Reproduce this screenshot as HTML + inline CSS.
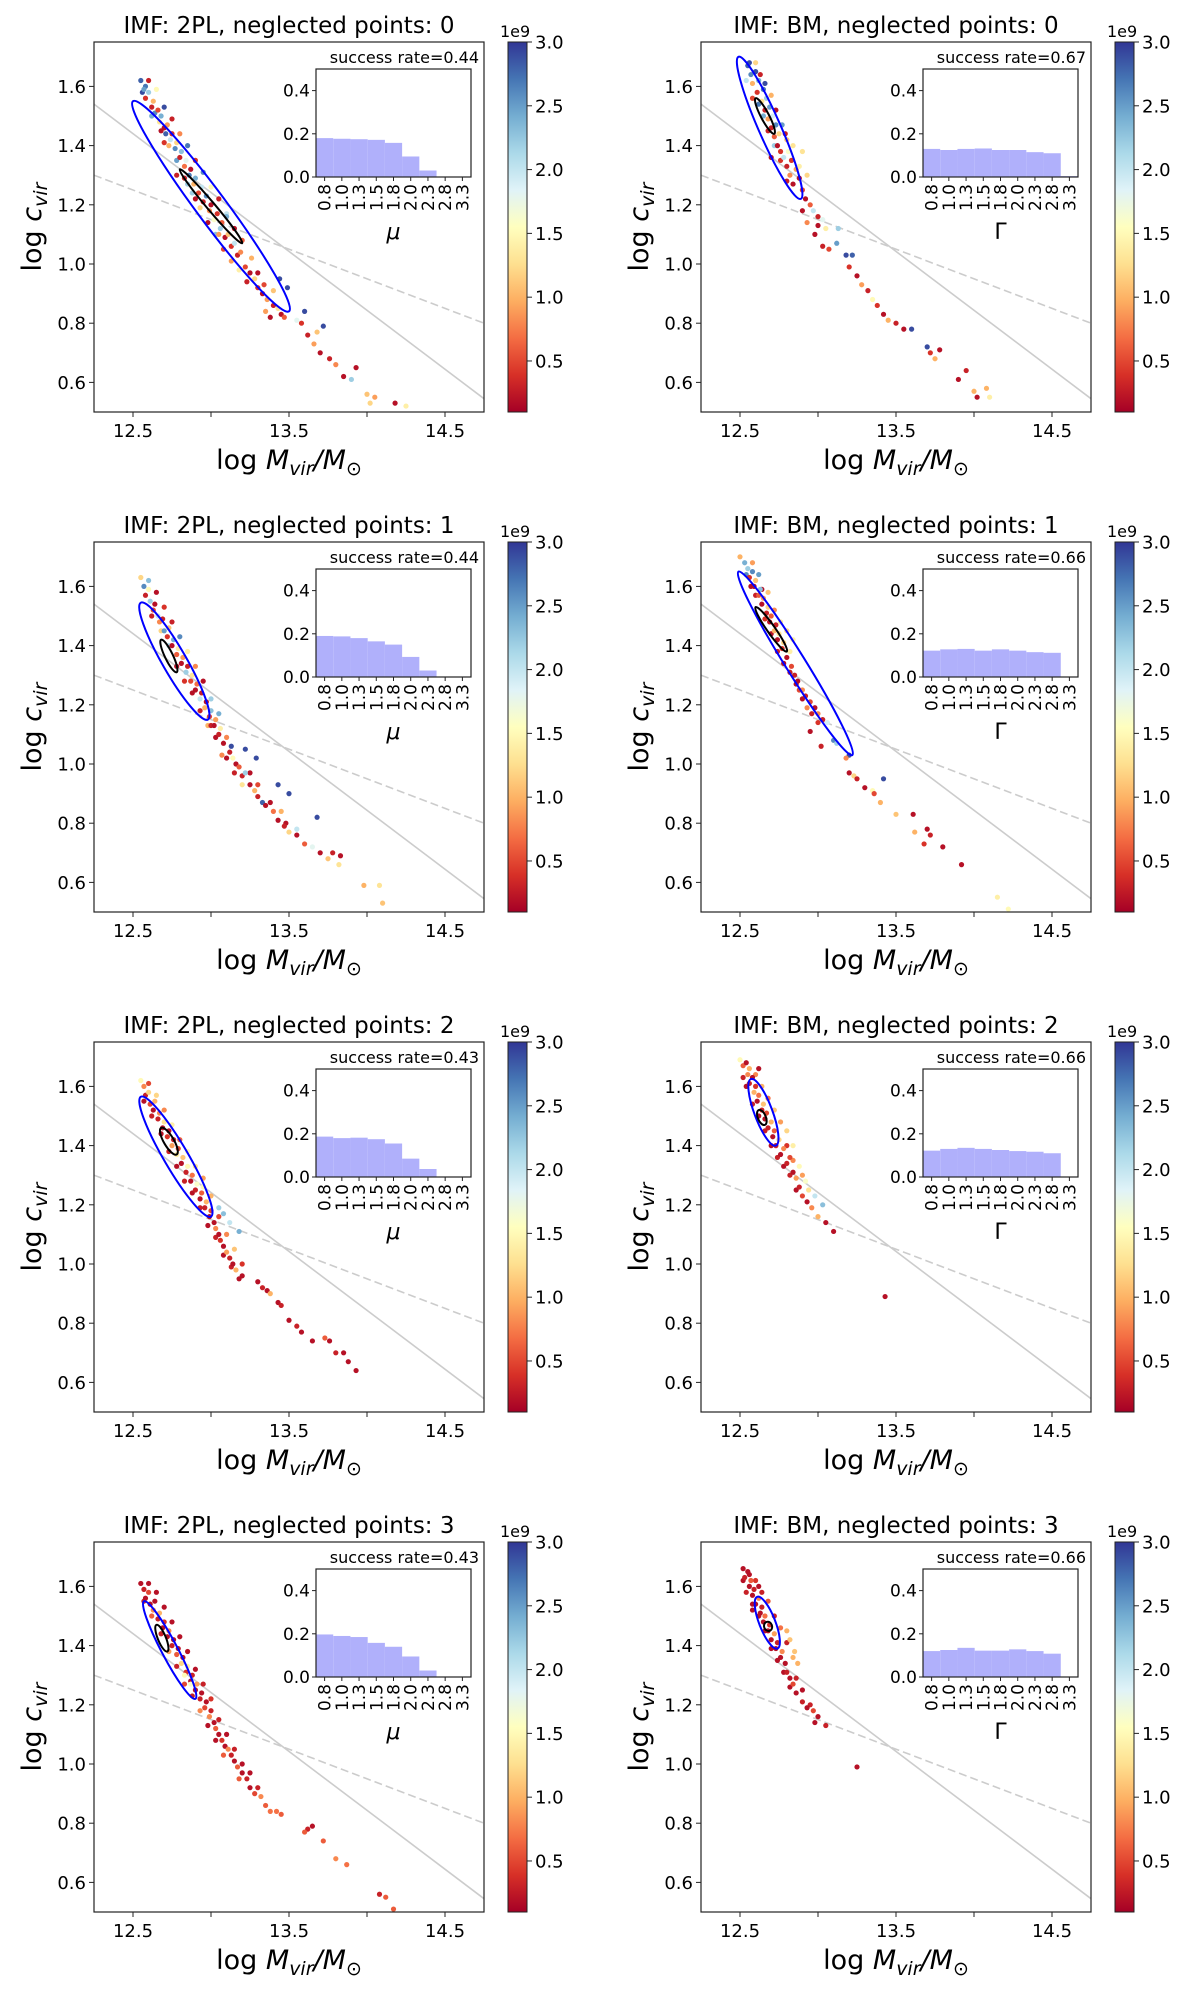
<!DOCTYPE html>
<html><head><meta charset="utf-8"><style>
html,body{margin:0;padding:0;background:#fff}
svg text{font-family:"DejaVu Sans","Liberation Sans",sans-serif;fill:#000}
</style></head><body>
<svg id="fig" xmlns="http://www.w3.org/2000/svg" width="1200" height="1994" viewBox="0 0 1200 1994">
<defs>
<linearGradient id="cmap" x1="0" y1="1" x2="0" y2="0">
<stop offset="0" stop-color="#a50026"/><stop offset="0.1" stop-color="#d73027"/><stop offset="0.2" stop-color="#f46d43"/><stop offset="0.3" stop-color="#fdae61"/><stop offset="0.4" stop-color="#fee090"/><stop offset="0.5" stop-color="#ffffbf"/><stop offset="0.6" stop-color="#e0f3f8"/><stop offset="0.7" stop-color="#abd9e9"/><stop offset="0.8" stop-color="#74add1"/><stop offset="0.9" stop-color="#4575b4"/><stop offset="1" stop-color="#313695"/>
</linearGradient>
</defs>
</svg>
<script>
// ---- data ----
const xTicks=[12.5,13.5,14.5];
const xMinorTicks=[13.0,14.0];
const yTicks=[0.6,0.8,1.0,1.2,1.4,1.6];
const cbTicks=[0.5,1.0,1.5,2.0,2.5,3.0];
const insetYTicks=[0.0,0.2,0.4];
const insetXLabels=["0.8","1.0","1.3","1.5","1.8","2.0","2.3","2.8","3.3"];
const solidRelation=[[12.25,1.54],[14.75,0.545]];
const dashedRelation=[[12.25,1.30],[14.75,0.80]];
const titles=["IMF: 2PL, neglected points: 0","IMF: BM, neglected points: 0","IMF: 2PL, neglected points: 1","IMF: BM, neglected points: 1","IMF: 2PL, neglected points: 2","IMF: BM, neglected points: 2","IMF: 2PL, neglected points: 3","IMF: BM, neglected points: 3"];
const successRates=["0.44","0.67","0.44","0.66","0.43","0.66","0.43","0.66"];
const insetXTitles=["μ","Γ","μ","Γ","μ","Γ","μ","Γ"];
const hist_2pl_0=[0.18,0.177,0.175,0.172,0.158,0.095,0.03,0,0];
const hist_bm_0=[0.13,0.125,0.13,0.132,0.125,0.125,0.115,0.11,0.004];
const hist_2pl_1=[0.19,0.188,0.18,0.165,0.15,0.093,0.03,0,0];
const hist_bm_1=[0.122,0.128,0.13,0.122,0.128,0.122,0.115,0.112,0];
const hist_2pl_2=[0.187,0.18,0.182,0.175,0.155,0.085,0.037,0,0];
const hist_bm_2=[0.122,0.13,0.135,0.13,0.125,0.12,0.117,0.11,0.002];
const hist_2pl_3=[0.197,0.19,0.185,0.158,0.14,0.095,0.03,0,0];
const hist_bm_3=[0.12,0.125,0.135,0.122,0.122,0.128,0.12,0.108,0];
// ellipses: [x1,y1,x2,y2,halfWidthPx]
const ell_blue=[[12.5,1.55,13.5,0.84,15],[12.49,1.70,12.89,1.22,11],[12.55,1.545,12.98,1.15,12],[12.49,1.65,13.22,1.03,10],[12.55,1.565,13.0,1.16,12],[12.57,1.625,12.73,1.40,9],[12.57,1.55,12.9,1.22,8],[12.61,1.565,12.74,1.39,8]];
const ell_black=[[12.8,1.32,13.2,1.07,4],[12.6,1.56,12.72,1.44,4],[12.68,1.42,12.78,1.31,4],[12.6,1.53,12.8,1.38,4],[12.68,1.46,12.78,1.37,5],[12.62,1.52,12.66,1.47,4],[12.65,1.47,12.72,1.38,4],[12.67,1.48,12.69,1.45,4]];
// points: [log M, log c, age/1e9]
const pts_2pl_0=[[12.55,1.62,2.8],[12.57,1.59,2.5],[12.58,1.56,0.4],[12.6,1.58,2.2],[12.62,1.53,0.3],[12.63,1.55,1.0],[12.64,1.51,2.6],[12.66,1.52,0.5],[12.67,1.48,1.3],[12.68,1.50,2.4],[12.7,1.46,0.2],[12.71,1.44,2.8],[12.72,1.47,0.9],[12.74,1.42,2.0],[12.75,1.44,0.4],[12.77,1.39,2.6],[12.78,1.41,1.2],[12.8,1.36,0.3],[12.81,1.38,2.3],[12.83,1.33,0.7],[12.84,1.35,1.8],[12.86,1.30,2.7],[12.87,1.32,0.2],[12.89,1.27,1.0],[12.9,1.29,2.4],[12.92,1.24,0.5],[12.94,1.26,2.0],[12.95,1.21,0.3],[12.97,1.23,2.6],[12.99,1.18,0.8],[13.0,1.20,0.2],[13.02,1.15,1.6],[13.04,1.17,0.4],[13.06,1.12,2.2],[13.07,1.14,0.6],[13.09,1.09,0.2],[13.11,1.10,1.1],[13.13,1.06,0.4],[13.15,1.07,2.0],[13.17,1.03,0.3],[13.19,1.04,0.8],[13.22,0.99,0.5],[13.25,0.97,0.2],[13.28,0.95,1.2],[13.3,0.92,0.4],[13.33,0.90,0.2],[13.36,0.88,0.9],[13.4,0.86,0.3],[13.43,0.85,1.3],[13.45,0.83,0.2],[13.47,0.82,0.6],[13.44,0.95,2.9],[13.49,0.92,2.9],[13.55,0.81,1.8],[13.62,0.76,0.3],[13.66,0.73,0.9],[13.7,0.70,0.2],[13.68,0.77,1.1],[13.72,0.79,2.9],[13.76,0.68,0.3],[13.8,0.66,0.8],[13.85,0.62,0.2],[13.9,0.61,2.2],[13.93,0.65,0.2],[14.0,0.56,1.1],[14.05,0.55,0.9],[14.02,0.53,1.2],[14.18,0.53,0.2],[14.25,0.52,1.4],[13.58,0.80,0.4],[13.6,0.84,2.9],[12.78,1.30,0.3],[12.9,1.22,0.2],[13.05,1.10,0.9],[13.1,1.16,2.4],[12.7,1.41,0.4],[12.85,1.27,2.2]];
const band_2pl_0=[[12.56,1.58,2.9],[12.58,1.60,2.7],[12.6,1.62,0.3],[12.62,1.50,2.4],[12.65,1.59,1.5],[12.68,1.45,0.2],[12.7,1.53,2.9],[12.73,1.40,1.0],[12.75,1.49,0.3],[12.78,1.35,2.5],[12.8,1.44,0.8],[12.83,1.29,0.3],[12.85,1.40,2.7],[12.88,1.24,2.2],[12.9,1.35,0.4],[12.93,1.19,1.2],[12.95,1.31,2.6],[12.98,1.14,0.2],[13.0,1.26,1.5],[13.03,1.10,2.3],[13.05,1.22,0.3],[13.08,1.05,0.5],[13.1,1.17,2.0],[13.13,1.01,0.9],[13.15,1.12,0.2],[13.18,0.98,1.4],[13.2,1.08,0.6],[13.23,0.94,0.3],[13.26,1.02,1.0],[13.3,0.97,0.2],[13.34,0.93,0.5],[13.38,0.82,0.2],[13.4,0.91,1.1],[13.35,0.84,0.9]];
const pts_bm_0=[[12.55,1.67,2.8],[12.57,1.64,2.6],[12.58,1.61,1.0],[12.6,1.65,2.9],[12.61,1.58,0.4],[12.62,1.62,2.4],[12.64,1.55,1.3],[12.65,1.59,2.7],[12.66,1.52,0.3],[12.67,1.56,2.2],[12.68,1.49,0.9],[12.69,1.53,2.5],[12.7,1.46,0.3],[12.71,1.50,1.9],[12.72,1.43,0.6],[12.73,1.47,2.6],[12.74,1.40,0.2],[12.75,1.44,1.2],[12.76,1.38,0.4],[12.78,1.36,2.0],[12.8,1.33,0.3],[12.82,1.30,0.8],[12.84,1.27,0.2],[12.8,1.42,1.1],[12.84,1.40,1.3],[12.88,1.33,1.4],[12.9,1.25,0.5],[12.92,1.22,0.2],[12.95,1.20,0.6],[12.97,1.18,2.0],[13.0,1.16,0.3],[13.03,1.15,1.8],[13.05,1.12,1.4],[12.98,1.10,0.2],[13.03,1.06,0.3],[13.07,1.05,0.5],[13.12,1.07,2.5],[13.18,1.03,2.9],[13.22,1.03,2.8],[13.13,1.12,2.2],[13.2,0.99,0.4],[13.25,0.96,0.2],[13.28,0.93,0.9],[13.32,0.91,0.3],[13.35,0.88,1.5],[13.38,0.86,0.4],[13.42,0.83,0.2],[13.45,0.81,1.0],[13.5,0.80,0.3],[13.55,0.78,0.2],[13.6,0.78,2.9],[13.7,0.72,2.9],[13.72,0.70,0.4],[13.78,0.71,0.2],[13.75,0.68,1.0],[13.9,0.61,0.2],[13.95,0.64,0.3],[14.0,0.57,1.0],[14.02,0.55,0.2],[14.08,0.58,1.0],[14.1,0.55,1.4]];
const band_bm_0=[[12.54,1.62,2.0],[12.56,1.68,2.9],[12.58,1.56,0.5],[12.6,1.68,1.2],[12.62,1.54,2.7],[12.63,1.64,0.3],[12.65,1.50,2.4],[12.66,1.61,2.9],[12.68,1.45,0.3],[12.7,1.57,1.0],[12.72,1.40,2.2],[12.73,1.52,0.2],[12.76,1.35,0.4],[12.77,1.47,2.5],[12.79,1.44,0.3],[12.81,1.38,1.6],[12.83,1.35,0.4],[12.86,1.32,0.9],[12.88,1.29,0.2],[12.9,1.38,1.3],[12.93,1.30,1.2],[12.7,1.36,0.2],[12.8,1.28,0.3],[12.9,1.18,0.2],[12.93,1.14,0.8],[13.0,1.13,0.2]];
const pts_2pl_1=[[12.55,1.63,1.2],[12.57,1.60,2.6],[12.58,1.57,0.3],[12.6,1.59,1.5],[12.61,1.55,2.2],[12.63,1.52,0.5],[12.64,1.54,0.2],[12.66,1.50,2.0],[12.67,1.48,0.8],[12.69,1.49,0.3],[12.7,1.45,2.5],[12.72,1.43,0.4],[12.73,1.46,1.1],[12.75,1.40,0.2],[12.76,1.42,2.4],[12.78,1.37,0.6],[12.79,1.39,1.4],[12.81,1.34,0.2],[12.82,1.36,0.9],[12.84,1.31,2.2],[12.85,1.33,0.3],[12.87,1.28,0.5],[12.88,1.30,1.3],[12.9,1.25,0.2],[12.91,1.27,0.7],[12.93,1.22,2.0],[12.94,1.24,0.3],[12.96,1.19,1.0],[12.97,1.21,0.2],[12.99,1.16,0.5],[13.0,1.18,2.3],[13.02,1.13,0.2],[13.03,1.15,0.9],[13.05,1.10,0.3],[13.06,1.12,1.4],[13.08,1.07,0.2],[13.1,1.09,0.8],[13.12,1.04,0.3],[13.14,1.02,1.5],[13.16,1.00,0.2],[13.18,0.99,0.6],[13.2,0.96,0.3],[13.22,0.97,2.2],[13.25,0.93,0.2],[13.28,0.91,1.0],[13.3,0.89,0.3],[13.33,0.87,2.8],[13.35,0.86,0.2],[13.4,0.84,0.7],[13.43,0.81,0.2],[13.47,0.79,0.3],[13.5,0.77,1.2],[13.55,0.76,0.2],[13.6,0.73,0.6],[13.65,0.72,1.8],[13.7,0.70,0.2],[13.75,0.68,1.1],[13.78,0.70,0.3],[13.83,0.69,0.2],[13.82,0.66,1.3],[13.13,1.06,2.9],[13.22,1.05,2.9],[13.29,1.02,2.9],[13.43,0.93,2.9],[13.5,0.90,2.9],[13.68,0.82,2.9],[13.05,1.17,2.4],[13.0,1.22,2.2],[13.98,0.59,1.0],[14.08,0.59,1.3],[14.1,0.53,1.1]];
const band_2pl_1=[[12.6,1.62,2.3],[12.62,1.50,0.3],[12.65,1.58,0.2],[12.68,1.45,1.2],[12.7,1.53,0.4],[12.73,1.40,2.1],[12.75,1.48,0.3],[12.78,1.33,0.2],[12.8,1.43,2.6],[12.83,1.28,0.4],[12.85,1.38,1.4],[12.88,1.24,0.2],[12.9,1.33,0.8],[12.93,1.18,0.3],[12.95,1.28,0.2],[12.98,1.13,1.0],[13.0,1.13,0.3],[13.03,1.09,0.2],[13.07,1.03,0.8],[13.1,1.02,0.2],[13.15,0.97,0.3],[13.2,0.93,1.3],[13.25,0.97,0.2],[13.3,0.93,0.5],[13.38,0.87,0.2],[13.45,0.84,1.0],[13.48,0.80,0.2],[13.55,0.78,2.0]];
const pts_bm_1=[[12.5,1.70,1.0],[12.53,1.68,2.4],[12.55,1.66,2.2],[12.56,1.63,0.4],[12.58,1.65,2.6],[12.59,1.60,0.2],[12.6,1.62,1.1],[12.62,1.57,0.6],[12.63,1.59,2.3],[12.64,1.54,0.2],[12.65,1.56,0.9],[12.67,1.51,0.3],[12.68,1.53,1.2],[12.69,1.48,0.2],[12.7,1.50,0.6],[12.72,1.45,1.0],[12.73,1.47,0.3],[12.74,1.42,0.2],[12.75,1.44,1.3],[12.77,1.39,0.4],[12.78,1.41,1.2],[12.8,1.36,0.2],[12.82,1.38,1.4],[12.83,1.33,0.5],[12.85,1.30,0.3],[12.87,1.28,0.2],[12.9,1.25,0.8],[12.92,1.23,0.3],[12.95,1.21,0.5],[12.98,1.19,0.2],[13.0,1.17,0.8],[13.03,1.15,0.3],[13.06,1.14,1.9],[12.95,1.11,0.2],[13.02,1.06,0.3],[13.1,1.08,2.6],[13.12,1.07,2.2],[13.2,1.03,2.9],[13.18,1.02,0.8],[13.2,0.97,0.2],[13.23,0.96,1.2],[13.25,0.95,0.3],[13.3,0.92,0.2],[13.35,0.91,1.5],[13.36,0.90,0.5],[13.42,0.95,2.9],[13.4,0.87,1.0],[13.5,0.83,1.1],[13.61,0.83,0.2],[13.62,0.77,1.0],[13.7,0.78,0.2],[13.72,0.76,0.3],[13.68,0.73,0.4],[13.8,0.72,0.2],[13.92,0.66,0.2],[14.15,0.55,1.4],[14.22,0.51,1.5]];
const band_bm_1=[[12.54,1.64,2.6],[12.57,1.60,0.2],[12.58,1.68,0.9],[12.6,1.57,0.3],[12.62,1.64,2.5],[12.64,1.59,0.2],[12.66,1.49,0.4],[12.68,1.58,1.1],[12.7,1.44,0.2],[12.72,1.52,0.8],[12.74,1.38,0.3],[12.76,1.48,1.3],[12.78,1.34,0.2],[12.8,1.45,1.2],[12.82,1.31,0.3],[12.84,1.42,1.4],[12.86,1.27,0.2],[12.88,1.25,0.5],[12.9,1.22,0.2],[12.93,1.19,0.8],[12.96,1.17,0.3],[13.0,1.14,0.4]];
const pts_2pl_2=[[12.55,1.62,1.5],[12.57,1.60,0.8],[12.58,1.57,0.3],[12.6,1.58,1.2],[12.61,1.54,0.5],[12.63,1.52,0.2],[12.64,1.55,1.0],[12.66,1.49,0.3],[12.67,1.51,0.8],[12.69,1.46,0.2],[12.7,1.48,1.3],[12.72,1.43,0.4],[12.73,1.45,0.2],[12.75,1.40,0.9],[12.76,1.42,0.3],[12.78,1.37,1.4],[12.79,1.39,0.5],[12.81,1.34,0.2],[12.82,1.36,1.1],[12.84,1.31,0.3],[12.85,1.33,1.5],[12.87,1.28,0.2],[12.88,1.30,0.7],[12.9,1.25,0.3],[12.91,1.27,1.6],[12.93,1.22,0.2],[12.94,1.24,0.6],[12.96,1.19,0.3],[12.97,1.21,1.0],[12.99,1.16,0.2],[13.0,1.18,0.5],[13.02,1.14,0.2],[13.03,1.12,0.8],[13.05,1.10,0.2],[13.06,1.08,0.4],[13.08,1.06,0.2],[13.1,1.04,0.9],[13.12,1.02,0.3],[13.14,1.00,0.2],[13.16,0.98,1.0],[13.05,1.19,2.2],[13.08,1.17,2.3],[13.12,1.14,2.0],[13.18,1.11,2.4],[12.95,1.26,1.5],[13.2,0.96,0.2],[13.3,0.94,0.2],[13.33,0.92,0.3],[13.36,0.91,0.2],[13.38,0.90,1.0],[13.43,0.87,0.2],[13.45,0.86,0.3],[13.5,0.81,0.2],[13.55,0.79,0.3],[13.58,0.77,0.2],[13.65,0.74,0.2],[13.73,0.75,0.6],[13.76,0.74,0.2],[13.8,0.70,0.3],[13.85,0.70,0.2],[13.88,0.67,0.2],[13.93,0.64,0.2]];
const band_2pl_2=[[12.57,1.55,0.2],[12.6,1.61,0.5],[12.62,1.50,0.3],[12.65,1.57,1.2],[12.68,1.44,0.2],[12.7,1.52,0.8],[12.73,1.38,0.3],[12.75,1.47,1.4],[12.78,1.33,0.2],[12.8,1.42,0.6],[12.83,1.28,0.3],[12.85,1.38,1.5],[12.88,1.24,0.2],[12.9,1.33,1.3],[12.93,1.19,0.3],[12.95,1.29,0.9],[12.98,1.13,0.2],[13.0,1.23,1.0],[13.03,1.09,0.3],[13.05,1.16,0.5],[13.08,1.03,0.2],[13.1,1.10,0.8],[13.13,0.99,0.3],[13.15,1.05,1.1],[13.2,1.00,0.4],[13.18,0.95,0.2]];
const pts_bm_2=[[12.5,1.69,1.5],[12.52,1.67,0.6],[12.54,1.68,0.2],[12.55,1.64,0.8],[12.56,1.61,0.3],[12.58,1.63,0.2],[12.59,1.58,1.0],[12.6,1.60,0.4],[12.61,1.55,0.2],[12.62,1.57,0.7],[12.64,1.52,0.3],[12.65,1.54,1.1],[12.66,1.49,0.2],[12.67,1.51,0.5],[12.68,1.46,0.3],[12.7,1.48,1.0],[12.71,1.43,0.2],[12.72,1.45,0.6],[12.73,1.40,0.3],[12.75,1.42,1.2],[12.76,1.37,0.2],[12.78,1.39,0.8],[12.8,1.34,0.3],[12.82,1.36,0.5],[12.84,1.31,0.2],[12.86,1.29,0.9],[12.8,1.45,1.2],[12.84,1.40,1.4],[12.88,1.33,1.5],[12.92,1.28,1.6],[12.88,1.26,0.3],[12.9,1.23,0.5],[12.93,1.21,0.2],[12.96,1.19,0.8],[12.98,1.23,2.0],[13.03,1.20,2.3],[13.0,1.16,1.0],[13.05,1.14,0.2],[13.1,1.11,0.2],[12.62,1.66,0.2],[13.43,0.89,0.2]];
const band_bm_2=[[12.52,1.63,0.3],[12.54,1.60,0.2],[12.56,1.66,1.0],[12.58,1.54,0.3],[12.6,1.64,0.8],[12.62,1.50,0.2],[12.64,1.60,1.0],[12.66,1.45,0.3],[12.68,1.56,0.7],[12.7,1.40,0.2],[12.72,1.52,1.1],[12.74,1.36,0.3],[12.76,1.48,0.9],[12.78,1.33,0.2],[12.8,1.40,0.4],[12.82,1.30,0.3],[12.84,1.35,0.8],[12.86,1.25,0.2],[12.9,1.30,0.9],[12.94,1.25,1.3]];
const pts_2pl_3=[[12.55,1.61,0.2],[12.57,1.59,0.3],[12.58,1.56,0.2],[12.6,1.58,0.5],[12.61,1.54,0.2],[12.63,1.52,0.8],[12.64,1.55,0.2],[12.66,1.49,0.3],[12.67,1.51,1.0],[12.69,1.46,0.2],[12.7,1.48,0.4],[12.72,1.43,0.2],[12.73,1.45,0.8],[12.75,1.40,0.3],[12.76,1.42,0.2],[12.78,1.37,0.6],[12.79,1.39,0.2],[12.81,1.34,1.2],[12.82,1.36,0.2],[12.84,1.31,0.4],[12.85,1.33,1.4],[12.87,1.28,0.2],[12.88,1.30,0.3],[12.9,1.25,0.2],[12.91,1.27,0.9],[12.93,1.22,0.3],[12.94,1.24,0.2],[12.96,1.19,0.5],[12.97,1.21,0.2],[12.99,1.16,0.8],[13.0,1.18,0.3],[13.02,1.14,0.2],[13.03,1.12,0.6],[13.05,1.10,0.2],[13.07,1.08,0.4],[13.09,1.06,0.2],[13.11,1.05,0.8],[13.13,1.03,0.3],[13.15,1.01,0.2],[13.17,0.99,0.6],[13.2,0.97,0.2],[13.23,0.95,0.3],[13.25,0.92,0.2],[13.28,0.90,0.5],[13.32,0.89,0.8],[13.35,0.86,0.6],[13.38,0.84,0.7],[13.42,0.84,0.7],[13.45,0.83,0.6],[13.62,0.78,0.3],[13.65,0.79,0.2],[13.6,0.77,0.6],[13.72,0.74,0.6],[13.8,0.68,0.8],[13.87,0.66,0.7],[14.08,0.56,0.3],[14.12,0.55,0.6],[14.17,0.51,0.6],[12.83,1.30,1.5],[12.87,1.27,1.6]];
const band_2pl_3=[[12.57,1.55,0.3],[12.6,1.61,0.2],[12.62,1.50,0.6],[12.65,1.58,0.2],[12.68,1.44,0.3],[12.7,1.53,0.2],[12.73,1.38,0.9],[12.75,1.48,0.2],[12.78,1.33,0.3],[12.8,1.43,0.2],[12.83,1.27,0.5],[12.85,1.38,0.2],[12.88,1.23,0.3],[12.9,1.32,0.2],[12.93,1.18,0.8],[12.95,1.27,0.3],[12.98,1.13,0.2],[13.0,1.22,0.4],[13.03,1.08,0.2],[13.05,1.15,0.3],[13.08,1.03,0.6],[13.1,1.10,0.2],[13.15,1.05,0.3],[13.2,1.00,0.2],[13.18,0.95,0.6],[13.25,0.97,0.2],[13.3,0.92,0.3]];
const pts_bm_3=[[12.52,1.66,0.2],[12.53,1.63,0.3],[12.55,1.65,0.2],[12.56,1.60,0.2],[12.57,1.62,0.6],[12.58,1.57,0.2],[12.59,1.59,0.3],[12.6,1.54,0.2],[12.62,1.56,0.8],[12.63,1.51,0.2],[12.64,1.53,0.3],[12.65,1.48,0.2],[12.66,1.50,0.7],[12.68,1.45,0.2],[12.69,1.47,0.4],[12.7,1.42,0.2],[12.72,1.44,0.9],[12.73,1.39,0.2],[12.74,1.41,0.3],[12.76,1.36,0.2],[12.77,1.38,0.8],[12.79,1.34,0.2],[12.8,1.31,0.3],[12.82,1.29,0.2],[12.84,1.27,0.5],[12.8,1.45,1.0],[12.82,1.42,1.1],[12.85,1.38,1.1],[12.87,1.34,1.0],[12.86,1.24,0.2],[12.9,1.21,0.3],[12.93,1.19,0.2],[12.97,1.18,0.5],[13.0,1.16,0.2],[13.05,1.13,0.3],[12.62,1.60,0.2],[12.58,1.52,0.2],[13.25,0.99,0.2]];
const band_bm_3=[[12.52,1.62,0.2],[12.54,1.58,0.3],[12.56,1.64,0.2],[12.58,1.54,0.2],[12.6,1.62,0.4],[12.62,1.50,0.2],[12.64,1.58,0.3],[12.66,1.45,0.2],[12.68,1.55,0.6],[12.7,1.39,0.2],[12.72,1.50,0.3],[12.74,1.35,0.2],[12.76,1.46,0.7],[12.78,1.31,0.2],[12.8,1.41,0.3],[12.82,1.26,0.2],[12.84,1.36,1.0],[12.86,1.29,0.3],[12.9,1.25,0.2],[12.95,1.20,0.3],[12.98,1.14,0.2]];

// ---- rendering ----
const NS="http://www.w3.org/2000/svg";
const svg=document.getElementById('fig');
const X0=12.25,X1=14.75,Y0=0.5,Y1=1.75,AW=390,AH=370;
const CB0=0.1,CB1=3.0;
const stops=["#a50026","#d73027","#f46d43","#fdae61","#fee090","#ffffbf","#e0f3f8","#abd9e9","#74add1","#4575b4","#313695"];
function hex(h){return [1,3,5].map(i=>parseInt(h.substr(i,2),16));}
function cmap(v){let t=(v-CB0)/(CB1-CB0);t=Math.max(0,Math.min(1,t))*10;const i=Math.min(9,Math.floor(t)),f=t-i;const a=hex(stops[i]),b=hex(stops[i+1]);return 'rgb('+a.map((c,k)=>Math.round(c+(b[k]-c)*f)).join(',')+')';}
function mk(tag,attrs,parent,text){const e=document.createElementNS(NS,tag);for(const k in attrs)e.setAttribute(k,attrs[k]);if(text!==undefined)e.textContent=text;(parent||svg).appendChild(e);return e;}

const panelPts=[band_2pl_0.concat(pts_2pl_0),band_bm_0.concat(pts_bm_0),band_2pl_1.concat(pts_2pl_1),band_bm_1.concat(pts_bm_1),band_2pl_2.concat(pts_2pl_2),band_bm_2.concat(pts_bm_2),band_2pl_3.concat(pts_2pl_3),band_bm_3.concat(pts_bm_3)];
const panelHist=[hist_2pl_0,hist_bm_0,hist_2pl_1,hist_bm_1,hist_2pl_2,hist_bm_2,hist_2pl_3,hist_bm_3];
const colLeft=[94,701];
const rowTop=[42,542,1042,1542];

for(let p=0;p<8;p++){
  const ax=colLeft[p%2], ay=rowTop[Math.floor(p/2)];
  const sx=v=>ax+(v-X0)/(X1-X0)*AW;
  const sy=v=>ay+(Y1-v)/(Y1-Y0)*AH;
  const g=mk('g',{});
  
  
  const clipId='clip'+p;
  const cp=mk('clipPath',{id:clipId},g);mk('rect',{x:ax,y:ay,width:AW,height:AH},cp);
  const plot=mk('g',{'clip-path':'url(#'+clipId+')'},g);
  
  
  const l1=mk('line',{x1:sx(solidRelation[0][0]),y1:sy(solidRelation[0][1]),x2:sx(solidRelation[1][0]),y2:sy(solidRelation[1][1]),stroke:'#cccccc','stroke-width':1.6},plot);
  
  
  const l2=mk('line',{x1:sx(dashedRelation[0][0]),y1:sy(dashedRelation[0][1]),x2:sx(dashedRelation[1][0]),y2:sy(dashedRelation[1][1]),stroke:'#cccccc','stroke-width':1.6,'stroke-dasharray':'8,4'},plot);
  
  
  panelPts[p].forEach(d=>{
    const c=mk('circle',{cx:sx(d[0]),cy:sy(d[1]),r:2.6,fill:cmap(d[2])},plot);
    
    
  });
  [[ell_blue[p],'#0000ff','blue-ellipse'],[ell_black[p],'#000000','black-ellipse']].forEach(([e,col,nm])=>{
    const x1=sx(e[0]),y1=sy(e[1]),x2=sx(e[2]),y2=sy(e[3]);
    const cx=(x1+x2)/2,cy=(y1+y2)/2,L=Math.hypot(x2-x1,y2-y1),ang=Math.atan2(y2-y1,x2-x1)*180/Math.PI;
    const el=mk('ellipse',{cx:cx,cy:cy,rx:L/2,ry:e[4],fill:'none',stroke:col,'stroke-width':2,transform:'rotate('+ang+' '+cx+' '+cy+')'},plot);
    
    
  });
  const fr=mk('rect',{x:ax,y:ay,width:AW,height:AH,fill:'none',stroke:'#222','stroke-width':1.2},g);
  
  
  xTicks.concat(xMinorTicks).forEach(v=>{mk('line',{x1:sx(v),y1:ay+AH,x2:sx(v),y2:ay+AH+5,stroke:'#222','stroke-width':1},g);});
  xTicks.forEach(v=>{const t=mk('text',{x:sx(v),y:ay+AH+25,'font-size':18,'text-anchor':'middle'},g,v.toFixed(1));});
  yTicks.forEach(v=>{mk('line',{x1:ax-5,y1:sy(v),x2:ax,y2:sy(v),stroke:'#222','stroke-width':1},g);
    const t=mk('text',{x:ax-8,y:sy(v)+6.5,'font-size':18,'text-anchor':'end'},g,v.toFixed(1));});
  const ti=mk('text',{x:ax+AW/2,y:ay-9,'font-size':23,'text-anchor':'middle'},g,titles[p]);
  
  
  const xl=mk('text',{x:ax+AW/2,y:ay+AH+57,'font-size':27,'text-anchor':'middle'},g);
  
  
  xl.innerHTML='log  <tspan font-style="italic">M</tspan><tspan font-size="19" font-style="italic" dy="6">vir</tspan><tspan dy="-6" font-style="italic">/M</tspan><tspan font-size="19" dy="6">⊙</tspan>';
  const yl=mk('text',{x:0,y:0,'font-size':27,'text-anchor':'middle',transform:'translate('+(ax-53)+','+(ay+AH/2)+') rotate(-90)'},g);
  
  
  yl.innerHTML='log  <tspan font-style="italic">c</tspan><tspan font-size="19" font-style="italic" dy="6">vir</tspan>';
  const sr=mk('text',{x:ax+AW-5,y:ay+21,'font-size':16,'text-anchor':'end'},g,'success rate='+successRates[p]);
  
  
  const ix=ax+222,iy=ay+27,iw=155,ih=108,nb=9,bw=iw/nb;
  const iyS=v=>iy+ih-(v/0.5)*ih;
  const ins=mk('g',{},g);
  
  
  mk('rect',{x:ix,y:iy,width:iw,height:ih,fill:'#fff'},ins);
  panelHist[p].forEach((h,k)=>{if(h<=0)return;
    const b=mk('rect',{x:ix+k*bw,y:iyS(h),width:bw,height:iy+ih-iyS(h),fill:'#b0b0fb'},ins);
    
    });
  mk('rect',{x:ix,y:iy,width:iw,height:ih,fill:'none',stroke:'#222','stroke-width':1.2},ins);
  insetYTicks.forEach(v=>{mk('line',{x1:ix-4,y1:iyS(v),x2:ix,y2:iyS(v),stroke:'#222'},ins);
    const t=mk('text',{x:ix-6,y:iyS(v)+6,'font-size':17,'text-anchor':'end'},ins,v.toFixed(1));});
  insetXLabels.forEach((s,k)=>{const tx=ix+(k+0.5)*bw;mk('line',{x1:tx,y1:iy+ih,x2:tx,y2:iy+ih+4,stroke:'#222'},ins);
    const t=mk('text',{x:0,y:0,'font-size':17,'text-anchor':'end',transform:'translate('+(tx+6)+','+(iy+ih+7)+') rotate(-90)'},ins,s);});
  const it=mk('text',{x:ix+iw/2,y:iy+ih+62,'font-size':22,'text-anchor':'middle','font-style':p%2===0?'italic':'normal'},ins,insetXTitles[p]);
  
  
  const cx0=ax+414,cw=19;
  const cby=v=>ay+AH-(v-CB0)/(CB1-CB0)*AH;
  const cb=mk('rect',{x:cx0,y:ay,width:cw,height:AH,fill:'url(#cmap)',stroke:'#222','stroke-width':1},g);
  
  
  cbTicks.forEach(v=>{mk('line',{x1:cx0+cw,y1:cby(v),x2:cx0+cw+5,y2:cby(v),stroke:'#222'},g);
    const t=mk('text',{x:cx0+cw+8,y:cby(v)+6.5,'font-size':18},g,v.toFixed(1));});
  const e9=mk('text',{x:cx0-8,y:ay-5,'font-size':16},g,'1e9');
  
  
}
</script>
</body></html>
